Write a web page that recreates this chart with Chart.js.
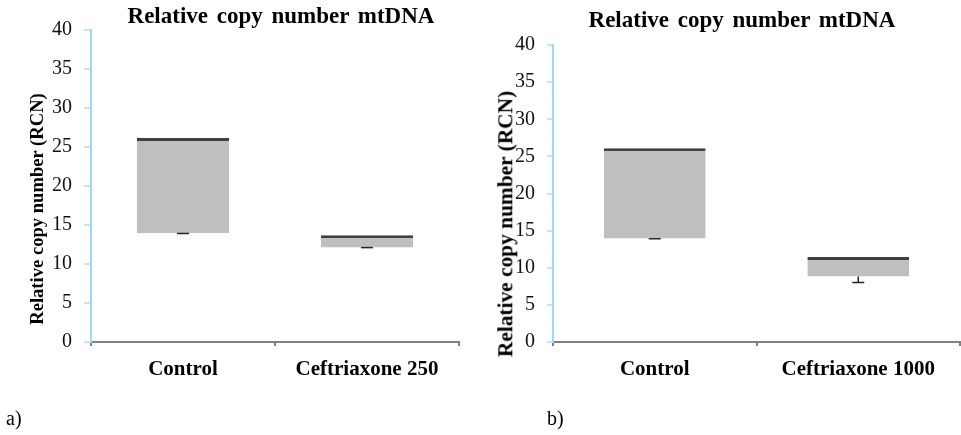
<!DOCTYPE html>
<html>
<head>
<meta charset="utf-8">
<script src="https://cdn.jsdelivr.net/npm/chart.js@4"></script>
<style>
  body { margin: 0; background: #fff; width: 961px; height: 435px; position: relative; overflow: hidden; }
  canvas { position: absolute; top: 0; }
  .txt { position: absolute; font-family: "Liberation Serif", "Times New Roman", serif; color: #000; white-space: nowrap; line-height: 1; }
  .title { font-weight: bold; font-size: 23px; word-spacing: 3px; transform: translateX(-50%); }
  .ytitle { font-weight: bold; transform: translate(-50%, -50%) rotate(-90deg); }
  .lbl { font-size: 20px; }
</style>
</head>
<body>
<canvas id="chartA" width="480" height="435" style="left:0"></canvas>
<canvas id="chartB" width="481" height="435" style="left:480px"></canvas>

<div class="txt title" style="left:281px; top:4px">Relative copy number mtDNA</div>
<div class="txt title" style="left:742px; top:8px">Relative copy number mtDNA</div>
<div class="txt ytitle" style="left:37px; top:209px; font-size:18.6px">Relative copy number (RCN)</div>
<div class="txt ytitle" style="left:506px; top:224px; font-size:21.4px">Relative copy number (RCN)</div>
<div class="txt lbl" style="left:6px; top:408px">a)</div>
<div class="txt lbl" style="left:547px; top:408px">b)</div>

<script>
// panel a
const categoriesA = ["Control", "Ceftriaxone 250"];
const lowA = [13.93, 12.1];
const highA = [26.15, 13.7];
const errLowA = [13.9, 12.1];

// panel b
const categoriesB = ["Control", "Ceftriaxone 1000"];
const lowB = [13.93, 8.83];
const highB = [26.1, 11.44];
const errLowB = [13.9, 8.0];

// y axis ticks
const yMin = 0;
const yMax = 40;
const yStep = 5;

const serif = "'Liberation Serif', 'Times New Roman', serif";

// little lower error bars under each box
const errorBars = {
  id: "errorBars",
  afterDatasetsDraw(chart, args, opts) {
    const ctx = chart.ctx;
    const y = chart.scales.y;
    const bars = chart.getDatasetMeta(0).data;
    ctx.save();
    ctx.strokeStyle = "#262626";
    ctx.lineWidth = 1.5;
    bars.forEach((bar, i) => {
      const yb = y.getPixelForValue(opts.low[i]);
      const ye = y.getPixelForValue(opts.err[i]);
      ctx.beginPath();
      ctx.moveTo(bar.x, yb);
      ctx.lineTo(bar.x, ye);
      ctx.moveTo(bar.x - 6, ye);
      ctx.lineTo(bar.x + 6, ye);
      ctx.stroke();
    });
    ctx.restore();
  }
};

function makeChart(id, labels, low, high, errLow, box) {
  new Chart(document.getElementById(id), {
    type: "bar",
    data: {
      labels,
      datasets: [{
        data: low.map((v, i) => [v, high[i]]),
        backgroundColor: "#bfbfbf",
        borderColor: "#3f3f3f",
        borderWidth: { top: 3, right: 0, bottom: 0, left: 0 },
        borderSkipped: false,
        categoryPercentage: 1,
        barPercentage: 0.5
      }]
    },
    options: {
      responsive: false,
      animation: false,
      layout: { padding: { left: 0, right: box.right, top: box.top, bottom: 0 } },
      plugins: {
        legend: { display: false },
        tooltip: { enabled: false },
        errorBars: { low, err: errLow }
      },
      scales: {
        x: {
          afterFit: s => { s.height = 93; },
          grid: { drawOnChartArea: false, offset: true, tickLength: 4, color: "#808080", lineWidth: 2 },
          border: { color: "#808080", width: 2 },
          ticks: { color: "#000", padding: 11, font: { family: serif, size: 21, weight: "bold" } }
        },
        y: {
          min: yMin,
          max: yMax,
          afterFit: s => { s.width = box.left; },
          grid: { drawOnChartArea: false, tickLength: box.tick, color: "#bfe6fb", lineWidth: 2 },
          border: { color: "#9fd8f8", width: 2 },
          ticks: { stepSize: yStep, color: "#111", padding: 12, font: { family: serif, size: 20 } }
        }
      }
    },
    plugins: [errorBars]
  });
}

makeChart("chartA", categoriesA, lowA, highA, errLowA, { left: 91, right: 21, top: 30, tick: 7 });
makeChart("chartB", categoriesB, lowB, highB, errLowB, { left: 73, right: 1, top: 45, tick: 6 });
</script>
</body>
</html>
